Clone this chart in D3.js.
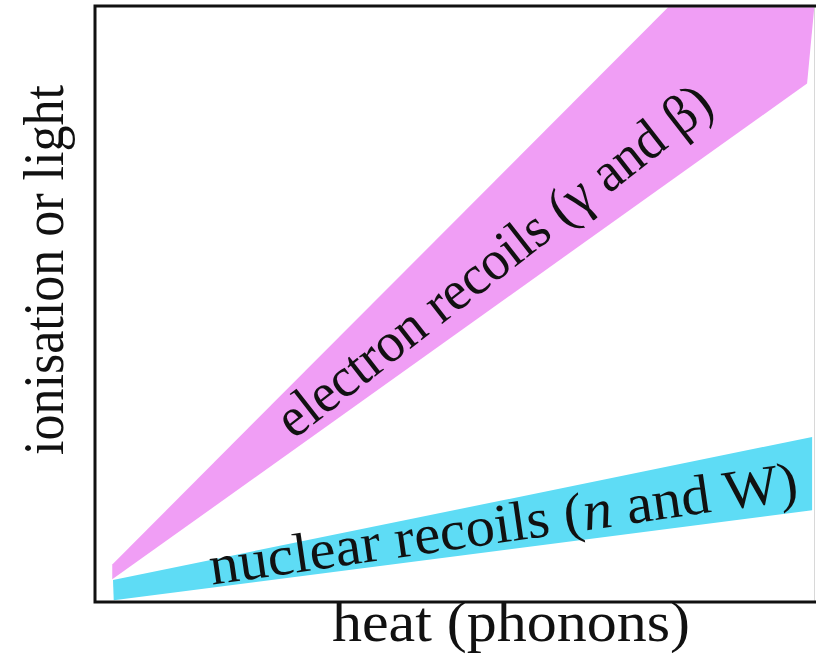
<!DOCTYPE html>
<html>
<head>
<meta charset="utf-8">
<script src="https://cdn.jsdelivr.net/npm/d3@7/dist/d3.min.js"></script>
<style>
  html, body { margin: 0; padding: 0; background: #fff; }
  svg { display: block; }
  text { font-family: "Liberation Serif", "Times New Roman", serif; fill: #111; }
</style>
</head>
<body>
<svg id="chart" width="816" height="656"></svg>
<script>
// Schematic discrimination bands: heat (phonon) signal vs ionisation/light signal,
// in arbitrary units 0..100 on both axes. Each band is a closed outline.
const electronHeat   = [2.4, 79.6, 99.9, 98.9, 2.4];
const electronSignal = [6.3, 99.8, 99.8, 87.0, 3.8];

const nuclearHeat    = [2.5, 99.6, 99.6, 2.6];
const nuclearSignal  = [3.7, 27.7, 15.4, 0.3];

const electronLabel = ["electron recoils (", "\u03B3", " and \u03B2)"];
const nuclearLabel = ["nuclear recoils (", "n", " and W)"];
const xTitle = "heat (phonons)";
const yTitle = "ionisation or light";

const W = 816, H = 656;
const plot = { left: 95, right: 815, top: 6, bottom: 602 };

const svg = d3.select("#chart");

const x = d3.scaleLinear().domain([0, 100]).range([plot.left, plot.right]);
const y = d3.scaleLinear().domain([0, 100]).range([plot.bottom, plot.top]);

const outline = d3.line().x(d => x(d[0])).y(d => y(d[1]));
const closed = (hs, vs) => outline(hs.map((h, i) => [h, vs[i]])) + "Z";

svg.append("defs").append("clipPath").attr("id", "plotClip")
  .append("rect")
  .attr("x", plot.left).attr("y", plot.top)
  .attr("width", plot.right - plot.left).attr("height", plot.bottom - plot.top);

const bands = svg.append("g").attr("clip-path", "url(#plotClip)");

bands.append("path")
  .attr("d", closed(electronHeat, electronSignal))
  .attr("fill", "#f09ef5");

bands.append("path")
  .attr("d", closed(nuclearHeat, nuclearSignal))
  .attr("fill", "#5edcf5");

// Band labels, laid along each band
function bandLabel(parts, italicIndex, cx, cy, angle, size, length) {
  const t = svg.append("text")
    .attr("transform", `translate(${cx},${cy}) rotate(${angle})`)
    .attr("text-anchor", "middle")
    .attr("font-size", size)
    .attr("textLength", length)
    .attr("lengthAdjust", "spacingAndGlyphs");
  parts.forEach((p, i) => {
    t.append("tspan")
      .attr("font-style", i === italicIndex ? "italic" : null)
      .text(p);
  });
}

bandLabel(electronLabel, -1, 505, 275, -38, 56, 536);
bandLabel(nuclearLabel, 1, 506, 542, -8.3, 56, 594);

// Frame: left, top and bottom rules, faint right edge
const frame = svg.append("g").attr("fill", "none");
frame.append("line")
  .attr("x1", plot.right - 0.5).attr("x2", plot.right - 0.5)
  .attr("y1", plot.top).attr("y2", plot.bottom)
  .attr("stroke", "#d8d8d8").attr("stroke-width", 1);
frame.append("path")
  .attr("d", `M${W},${plot.top}H${plot.left}V${plot.bottom}H${W}`)
  .attr("stroke", "#111").attr("stroke-width", 3);

// Axis titles
svg.append("text")
  .attr("x", 511)
  .attr("y", 641)
  .attr("text-anchor", "middle")
  .attr("font-size", 58)
  .attr("textLength", 358)
  .attr("lengthAdjust", "spacingAndGlyphs")
  .text(xTitle);

svg.append("text")
  .attr("transform", `translate(63,270) rotate(-90)`)
  .attr("text-anchor", "middle")
  .attr("font-size", 58)
  .attr("textLength", 370)
  .attr("lengthAdjust", "spacingAndGlyphs")
  .text(yTitle);
</script>
</body>
</html>
